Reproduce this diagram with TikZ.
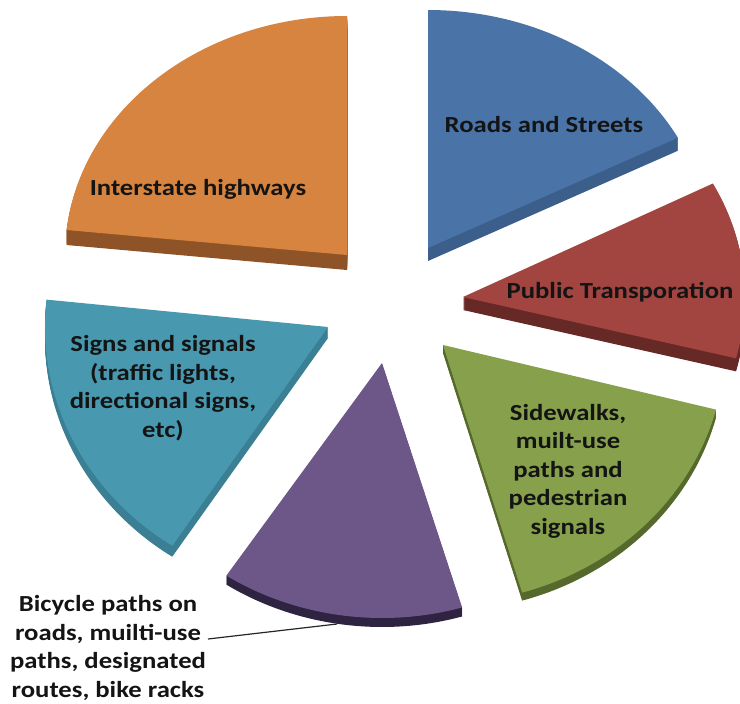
\documentclass[tikz,border=0pt]{standalone}
\usepackage{fontspec}
\setmainfont{Carlito}
\newfontfamily\lblfont{Carlito}[FakeStretch=1.16]
\definecolor{blueT}{HTML}{4A74A8}
\definecolor{blueS}{HTML}{3B5F8A}
\definecolor{orangeT}{HTML}{D6843F}
\definecolor{orangeS}{HTML}{8E5428}
\definecolor{redT}{HTML}{A2443F}
\definecolor{redS}{HTML}{672926}
\definecolor{greenT}{HTML}{86A04B}
\definecolor{greenS}{HTML}{56692C}
\definecolor{purpleT}{HTML}{6D5789}
\definecolor{purpleS}{HTML}{2E2340}
\definecolor{tealT}{HTML}{4899B0}
\definecolor{tealS}{HTML}{3A7F93}
\tikzset{
  lbl/.style={font=\lblfont\bfseries\fontsize{23}{28.5}\selectfont, text=black!92, align=center, inner sep=0pt},
  leader/.style={draw=black!85, line width=1.2pt}
}
% #1,#2 centre (px), #3,#4 start/end angle (maths, y up), #5,#6 radii, #7 depth, #8 top colour, #9 side colour
\def\pieslice#1#2#3#4#5#6#7#8#9{%
  \foreach \k in {1,...,#7}{%
    \fill[#9] ({#1},{#2+\k}) -- ++({-#3}:#5 and #6)
      arc[start angle={-#3}, end angle={-#4}, x radius=#5, y radius=#6] -- cycle;
  }%
  \fill[#8] (#1,#2) -- ++({-#3}:#5 and #6)
      arc[start angle={-#3}, end angle={-#4}, x radius=#5, y radius=#6] -- cycle;
}
\begin{document}
\begin{tikzpicture}[x=1pt,y=-1pt]
\useasboundingbox (0,0) rectangle (740,704);
\begin{scope}
\clip (0,0) rectangle (740,704);
% Interstate highways
\pieslice{347}{255}{90}{174}{282}{239}{15}{orangeT}{orangeS}
% Roads and Streets
\pieslice{428}{248}{27.6}{90}{282}{238}{13}{blueT}{blueS}
% Public Transporation
\pieslice{463}{297}{-14.5}{27.6}{282}{245}{13}{redT}{redS}
% Signs and signals
\pieslice{328}{327}{174}{236.6}{283}{262}{11}{tealT}{tealS}
% Sidewalks
\pieslice{443}{345}{-73.7}{-14.5}{282}{258}{8}{greenT}{greenS}
% Bicycle paths
\pieslice{382}{363}{236.5}{286.5}{282}{255}{9}{purpleT}{purpleS}
\end{scope}
\node[lbl] (roads) at (544,125) {Roads and Streets};
\node[lbl] (inter) at (198,189) {Interstate highways};
\node[lbl] (pub) at (620,292) {Public Transporation};
\node[lbl] (side) at (568,471) {Sidewalks,\\muilt-use\\paths and\\pedestrian\\signals};
\node[lbl] (signs) at (163,388) {Signs and signals\\(traffic lights,\\directional signs,\\etc)};
\node[lbl] (bike) at (108,648) {Bicycle paths on\\roads, muilti-use\\paths, designated\\routes, bike racks};
\coordinate (leadA) at (208,639);
\coordinate (leadB) at (337,624);
\draw[leader] (leadA) -- (leadB);
\end{tikzpicture}
\end{document}
